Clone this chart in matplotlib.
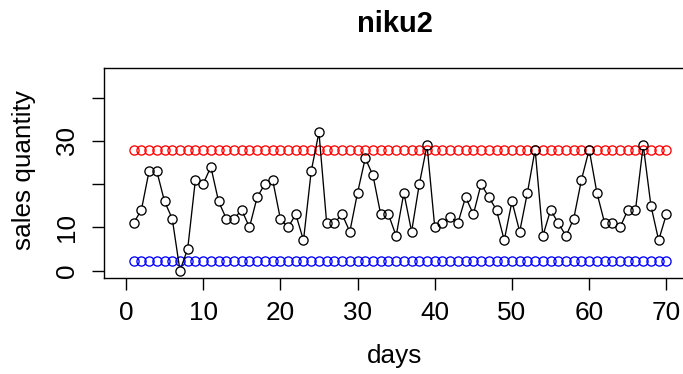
import numpy as np
import matplotlib
matplotlib.use("Agg")
import matplotlib.pyplot as plt

plt.rcParams['font.family'] = ['Liberation Sans', 'DejaVu Sans']

days = list(range(1, 71))
sales = [11, 14, 23, 23, 16, 12, 0, 5, 21, 20,
         24, 16, 12, 12, 14, 10, 17, 20, 21, 12,
         10, 13, 7, 23, 32, 11, 11, 13, 9, 18,
         26, 22, 13, 13, 8, 18, 9, 20, 29, 10,
         11, 12.5, 11, 17, 13, 20, 17, 14, 7, 16,
         9, 18, 28, 8, 14, 11, 8, 12, 21, 28,
         18, 11, 11, 10, 14, 14, 29, 15, 7, 13]
upper_limit = 27.8
lower_limit = 2.3
title = "niku2"
xlabel = "days"
ylabel = "sales quantity"
xticks = [0, 10, 20, 30, 40, 50, 60, 70]
yticks = [0, 10, 20, 30, 40]
ytick_labels = ["0", "10", "", "30", ""]

W, H = 683, 374
fig = plt.figure(figsize=(W / 100, H / 100), dpi=100)
ax = fig.add_axes([104.3 / W, 1 - 278.3 / H, (688 - 104.3) / W, (278.3 - 68.3) / H])
ax.set_xlim(-2.8, 72.8)
ax.set_ylim(-1.8, 46.8)

ms = 6.6
lw = 0.95
# limit lines as circles
ax.plot(days, [upper_limit] * len(days), linestyle='none', marker='o', ms=ms,
        mfc='none', mec='#FF0000', mew=lw)
ax.plot(days, [lower_limit] * len(days), linestyle='none', marker='o', ms=ms,
        mfc='none', mec='#0000FF', mew=lw)

# type "b": points with gapped lines
ax.plot(days, sales, linestyle='none', marker='o', ms=ms, mfc='none', mec='black', mew=lw)
pix = ax.transData.transform(np.column_stack([days, sales]))
gap = 4.6
xs, ys = [], []
inv = ax.transData.inverted()
for i in range(len(pix) - 1):
    p0, p1 = pix[i], pix[i + 1]
    d = p1 - p0
    L = np.hypot(*d)
    if L <= 2 * gap:
        continue
    u = d / L
    a = inv.transform(p0 + u * gap)
    b = inv.transform(p1 - u * gap)
    xs += [a[0], b[0], np.nan]
    ys += [a[1], b[1], np.nan]
ax.plot(xs, ys, color='black', lw=lw)

for s in ax.spines.values():
    s.set_linewidth(1.0)

ax.set_xticks(xticks)
ax.set_yticks(yticks)
ax.set_yticklabels(ytick_labels, rotation=90, va='center')
ax.tick_params(axis='both', direction='out', length=8.3, width=1.0, labelsize=18.8, pad=8)
ax.tick_params(axis='y', pad=10)

fig.text(395 / W, 1 - 24 / H, title, ha='center', va='center', fontsize=21, fontweight='bold')
fig.text(395 / W, 1 - 356 / H, xlabel, ha='center', va='center', fontsize=18.8)
fig.text(24 / W, 1 - 170 / H, ylabel, ha='center', va='center', fontsize=18.8, rotation=90)

fig.savefig("out.png", dpi=100)
